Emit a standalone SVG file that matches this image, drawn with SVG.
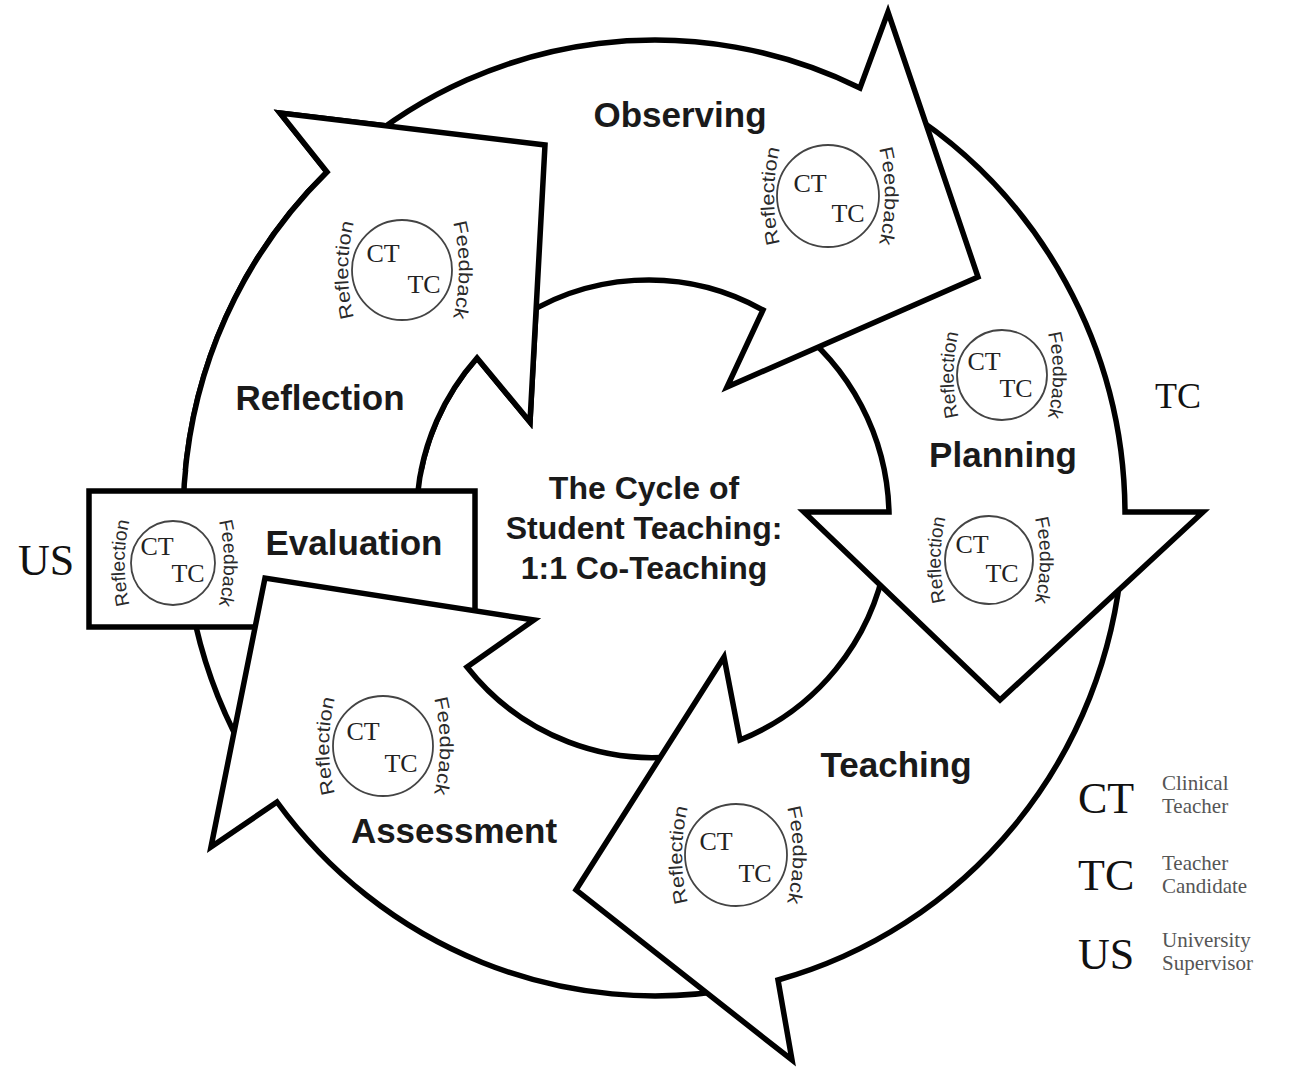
<svg xmlns="http://www.w3.org/2000/svg" xmlns:xlink="http://www.w3.org/1999/xlink" width="1304" height="1074" viewBox="0 0 1304 1074">
<style>
.arrow{fill:#fff;stroke:#000;stroke-width:5.5;stroke-linejoin:miter;stroke-miterlimit:10}
.box{fill:#fff;stroke:#000;stroke-width:5.5}
.lbl{font-family:"Liberation Sans",Arial,sans-serif;font-weight:bold;font-size:35px;fill:#1a1a1a;text-anchor:middle}
.title{font-family:"Liberation Sans",Arial,sans-serif;font-weight:bold;font-size:32px;fill:#1a1a1a;text-anchor:middle}
.mc{fill:none;stroke:#444;stroke-width:1.8}
.ab{font-family:"Liberation Serif","Times New Roman",serif;font-size:26px;fill:#222;text-anchor:middle}
.rf{font-family:"Liberation Sans",Arial,sans-serif;font-size:19px;fill:#2a2a2a}
.big{font-family:"Liberation Serif","Times New Roman",serif;font-size:44px;fill:#111}
.desc{font-family:"Liberation Serif","Times New Roman",serif;font-size:21px;fill:#555}
</style>
<defs>
<path id="aL50" d="M -47.6,50 A 200 200 0 0 1 -47.6,-50"/>
<path id="aR50" d="M 50.6,-50 A 200 200 0 0 1 50.6,50"/>
<path id="aL44" d="M -43,44 A 180 180 0 0 1 -43,-44"/>
<path id="aR44" d="M 45.5,-44 A 180 180 0 0 1 45.5,44"/>
<clipPath id="clipTop"><rect x="0" y="0" width="700" height="470"/></clipPath>
</defs>
<rect width="1304" height="1074" fill="#fff"/>

<g id="node-reflection">
<path class="arrow" d="M 255,770 A 470 478 0 0 1 327,172 L 280,113 L 545,145 L 530,422 L 477,358 A 237 240 0 0 0 452,645 Z"/>
<text class="lbl" x="320" y="410">Reflection</text>
<g transform="translate(402,270)">
<circle class="mc" r="50"/>
<text class="ab" x="-19" y="-8">CT</text>
<text class="ab" x="22" y="23">TC</text>
<text class="rf"><textPath xlink:href="#aL50" href="#aL50" startOffset="2.5" textLength="96" lengthAdjust="spacingAndGlyphs">Reflection</textPath></text>
<text class="rf"><textPath xlink:href="#aR50" href="#aR50" startOffset="2.5" textLength="96" lengthAdjust="spacingAndGlyphs">Feedback</textPath></text>
</g>
</g>

<g id="node-evaluation">
<rect class="box" x="89" y="491" width="386" height="136"/>
<text class="lbl" x="354" y="555">Evaluation</text>
<g transform="translate(173,563)">
<circle class="mc" r="42"/>
<text class="ab" x="-16" y="-8">CT</text>
<text class="ab" x="15" y="19">TC</text>
<text class="rf"><textPath xlink:href="#aL44" href="#aL44" startOffset="2" textLength="85" lengthAdjust="spacingAndGlyphs">Reflection</textPath></text>
<text class="rf"><textPath xlink:href="#aR44" href="#aR44" startOffset="2" textLength="85" lengthAdjust="spacingAndGlyphs">Feedback</textPath></text>
</g>
</g>

<g id="node-assessment">
<path class="arrow" d="M 740,988 A 470 478 0 0 1 277,802 L 211,847 L 265,578 L 534,620 L 467,667 A 237 240 0 0 0 693,754 Z"/>
<text class="lbl" x="454" y="843">Assessment</text>
<g transform="translate(383,746)">
<circle class="mc" r="50"/>
<text class="ab" x="-20" y="-6">CT</text>
<text class="ab" x="18" y="26">TC</text>
<text class="rf"><textPath xlink:href="#aL50" href="#aL50" startOffset="2.5" textLength="96" lengthAdjust="spacingAndGlyphs">Reflection</textPath></text>
<text class="rf"><textPath xlink:href="#aR50" href="#aR50" startOffset="2.5" textLength="96" lengthAdjust="spacingAndGlyphs">Feedback</textPath></text>
</g>
</g>

<g id="node-teaching">
<path class="arrow" d="M 1122,560 A 470 478 0 0 1 778,980 L 792,1060 L 576,890 L 724,657 L 740,740 A 237 240 0 0 0 886,560 Z"/>
<text class="lbl" x="896" y="777">Teaching</text>
<g transform="translate(736,855)">
<circle class="mc" r="51"/>
<text class="ab" x="-20" y="-5">CT</text>
<text class="ab" x="19" y="27">TC</text>
<text class="rf"><textPath xlink:href="#aL50" href="#aL50" startOffset="2.5" textLength="96" lengthAdjust="spacingAndGlyphs">Reflection</textPath></text>
<text class="rf"><textPath xlink:href="#aR50" href="#aR50" startOffset="2.5" textLength="96" lengthAdjust="spacingAndGlyphs">Feedback</textPath></text>
</g>
</g>

<g id="node-planning">
<path class="arrow" d="M 905,110 A 470 478 0 0 1 1125,512 L 1203,512 L 1000,700 L 804,512 L 889,512 A 237 240 0 0 0 790,323 Z"/>
<text class="lbl" x="1003" y="467">Planning</text>
<g transform="translate(1002,375)">
<circle class="mc" r="45"/>
<text class="ab" x="-18" y="-5">CT</text>
<text class="ab" x="14" y="22">TC</text>
<text class="rf"><textPath xlink:href="#aL44" href="#aL44" startOffset="2" textLength="85" lengthAdjust="spacingAndGlyphs">Reflection</textPath></text>
<text class="rf"><textPath xlink:href="#aR44" href="#aR44" startOffset="2" textLength="85" lengthAdjust="spacingAndGlyphs">Feedback</textPath></text>
</g>
<g transform="translate(989,560)">
<circle class="mc" r="44"/>
<text class="ab" x="-17" y="-7">CT</text>
<text class="ab" x="13" y="22">TC</text>
<text class="rf"><textPath xlink:href="#aL44" href="#aL44" startOffset="2" textLength="85" lengthAdjust="spacingAndGlyphs">Reflection</textPath></text>
<text class="rf"><textPath xlink:href="#aR44" href="#aR44" startOffset="2" textLength="85" lengthAdjust="spacingAndGlyphs">Feedback</textPath></text>
</g>
</g>

<g id="node-observing">
<path class="arrow" d="M 355,150 A 470 478 0 0 1 860,88 L 888,12 L 978,277 L 727,387 L 763,310 A 237 240 0 0 0 510,325 Z"/>
<text class="lbl" x="680" y="127">Observing</text>
<g transform="translate(828,196)">
<circle class="mc" r="51"/>
<text class="ab" x="-18" y="-4">CT</text>
<text class="ab" x="20" y="26">TC</text>
<text class="rf"><textPath xlink:href="#aL50" href="#aL50" startOffset="2.5" textLength="96" lengthAdjust="spacingAndGlyphs">Reflection</textPath></text>
<text class="rf"><textPath xlink:href="#aR50" href="#aR50" startOffset="2.5" textLength="96" lengthAdjust="spacingAndGlyphs">Feedback</textPath></text>
</g>
</g>

<g id="node-reflection-head">
<use xlink:href="#node-reflection" href="#node-reflection" clip-path="url(#clipTop)"/>
</g>

<g id="center-title">
<text class="title" x="644" y="499">The Cycle of</text>
<text class="title" x="644" y="539">Student Teaching:</text>
<text class="title" x="644" y="579">1:1 Co-Teaching</text>
</g>

<g id="side-labels">
<text class="big" x="18" y="575">US</text>
<text class="big" x="1155" y="408" style="font-size:36px">TC</text>
</g>

<g id="legend">
<text class="big" x="1078" y="813">CT</text>
<text class="desc" x="1162" y="790">Clinical</text>
<text class="desc" x="1162" y="813">Teacher</text>
<text class="big" x="1078" y="890">TC</text>
<text class="desc" x="1162" y="870">Teacher</text>
<text class="desc" x="1162" y="893">Candidate</text>
<text class="big" x="1078" y="969">US</text>
<text class="desc" x="1162" y="947">University</text>
<text class="desc" x="1162" y="970">Supervisor</text>
</g>
</svg>
